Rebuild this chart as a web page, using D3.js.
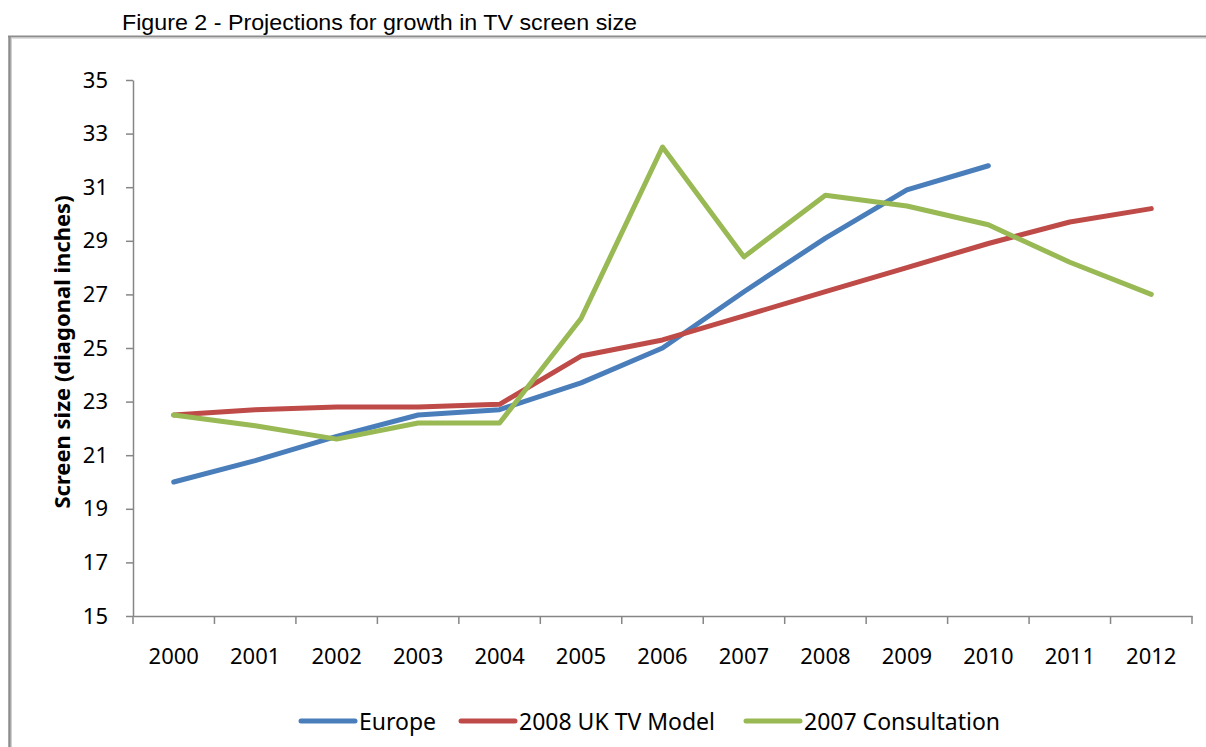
<!DOCTYPE html>
<html>
<head>
<meta charset="utf-8">
<script src="https://cdn.jsdelivr.net/npm/d3@7"></script>
<style>
  body { margin: 0; background: #fff; }
  svg { display: block; }
</style>
</head>
<body>
<svg id="chart" width="1206" height="747"></svg>
<script>
const years = ["2000","2001","2002","2003","2004","2005","2006","2007","2008","2009","2010","2011","2012"];
const europe = [20.0, 20.8, 21.7, 22.5, 22.7, 23.7, 25.0, 27.1, 29.1, 30.9, 31.8, null, null];
const ukModel = [22.5, 22.7, 22.8, 22.8, 22.9, 24.7, 25.3, 26.2, 27.1, 28.0, 28.9, 29.7, 30.2];
const consultation = [22.5, 22.1, 21.6, 22.2, 22.2, 26.1, 32.5, 28.4, 30.7, 30.3, 29.6, 28.2, 27.0];
const yTicks = [15, 17, 19, 21, 23, 25, 27, 29, 31, 33, 35];
const seriesNames = ["Europe", "2008 UK TV Model", "2007 Consultation"];
const seriesColors = ["#4A7EBB", "#BE4B48", "#98B954"];
const title = "Figure 2 - Projections for growth in TV screen size";
const yLabel = "Screen size (diagonal inches)";

const svg = d3.select("#chart");
const plotL = 133, plotR = 1192, plotT = 80, plotB = 616;
const font = "'Noto Sans', 'Open Sans', sans-serif";

// frame lines
svg.append("line").attr("x1", 9.5).attr("x2", 9.5).attr("y1", 36).attr("y2", 747)
  .attr("stroke", "#8c8c8c").attr("stroke-width", 2.5);
svg.append("line").attr("x1", 11.5).attr("x2", 11.5).attr("y1", 38).attr("y2", 747)
  .attr("stroke", "#d0d0d0").attr("stroke-width", 1);
svg.append("line").attr("x1", 8).attr("x2", 1206).attr("y1", 36.5).attr("y2", 36.5)
  .attr("stroke", "#8c8c8c").attr("stroke-width", 1.8);
svg.append("line").attr("x1", 12).attr("x2", 1206).attr("y1", 38.3).attr("y2", 38.3)
  .attr("stroke", "#d8d8d8").attr("stroke-width", 1);

// title
svg.append("text").attr("x", 122).attr("y", 30)
  .attr("font-family", "'Liberation Sans', Arial, sans-serif").attr("font-size", 22)
  .attr("textLength", 515).attr("lengthAdjust", "spacingAndGlyphs")
  .attr("fill", "#000").text(title);

const x = d3.scaleBand().domain(years).range([plotL, plotR]).paddingInner(0).paddingOuter(0);
const y = d3.scaleLinear().domain([15, 35]).range([plotB, plotT]);
const cx = d => x(d) + x.bandwidth() / 2;

// y axis
const yAxis = svg.append("g").attr("transform", `translate(${plotL},0)`)
  .call(d3.axisLeft(y).tickValues(yTicks).tickSize(7).tickSizeOuter(0).tickPadding(18));
yAxis.select(".domain").attr("stroke", "#868686").attr("stroke-width", 1.5);
yAxis.selectAll(".tick line").attr("stroke", "#868686").attr("stroke-width", 1.5);
yAxis.selectAll(".tick text").attr("font-family", font).attr("font-size", 22).attr("fill", "#000");

// x axis
const xAxis = svg.append("g").attr("transform", `translate(0,${plotB})`)
  .call(d3.axisBottom(x).tickSize(0).tickPadding(32));
xAxis.select(".domain").attr("stroke", "#868686").attr("stroke-width", 1.5);
xAxis.selectAll(".tick text").attr("font-family", font).attr("font-size", 22).attr("fill", "#000");
// x tick marks at category boundaries
const bounds = years.map(d => x(d)).concat([plotR]);
svg.append("g").selectAll("line").data(bounds).join("line")
  .attr("x1", d => d).attr("x2", d => d).attr("y1", plotB).attr("y2", plotB + 8)
  .attr("stroke", "#868686").attr("stroke-width", 1.5);

// y axis label
svg.append("text")
  .attr("transform", `translate(70,${(plotT + plotB) / 2 + 4}) rotate(-90)`)
  .attr("text-anchor", "middle")
  .attr("font-family", font).attr("font-size", 22).attr("font-weight", "bold")
  .attr("fill", "#000").text(yLabel);

// lines
const allSeries = [europe, ukModel, consultation];
const line = d3.line()
  .defined(d => d.v != null)
  .x(d => cx(d.year)).y(d => y(d.v));
allSeries.forEach((s, i) => {
  svg.append("path")
    .datum(years.map((yr, j) => ({ year: yr, v: s[j] })))
    .attr("d", line)
    .attr("fill", "none").attr("stroke", seriesColors[i])
    .attr("stroke-width", 5).attr("stroke-linejoin", "round").attr("stroke-linecap", "round");
});

// legend
const legendItems = [
  { x: 301, name: seriesNames[0], color: seriesColors[0] },
  { x: 461, name: seriesNames[1], color: seriesColors[1] },
  { x: 746, name: seriesNames[2], color: seriesColors[2] }
];
const lg = svg.append("g");
legendItems.forEach(it => {
  lg.append("line").attr("x1", it.x).attr("x2", it.x + 54).attr("y1", 721).attr("y2", 721)
    .attr("stroke", it.color).attr("stroke-width", 5).attr("stroke-linecap", "round");
  lg.append("text").attr("x", it.x + 58).attr("y", 722).attr("dy", "0.35em")
    .attr("font-family", font).attr("font-size", 23).attr("fill", "#000").text(it.name);
});
</script>
</body>
</html>
